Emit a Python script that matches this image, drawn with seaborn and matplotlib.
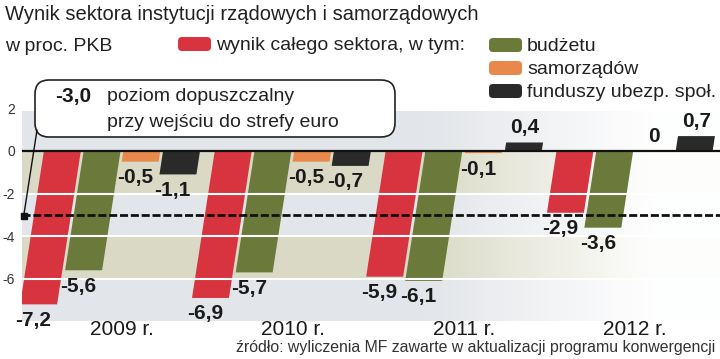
import numpy as np
import pandas as pd
import matplotlib
matplotlib.use('Agg')
import matplotlib.pyplot as plt
import matplotlib.transforms as mtransforms
from matplotlib.patches import FancyBboxPatch
from matplotlib.lines import Line2D
from matplotlib import font_manager as fm
import seaborn as sns

# dane (w proc. PKB)
lata = ['2009 r.', '2010 r.', '2011 r.', '2012 r.']
serie = ['wynik całego sektora', 'budżetu', 'samorządów', 'funduszy ubezp. społ.']
sektor = [-7.2, -6.9, -5.9, -2.9]
budzet = [-5.6, -5.7, -6.1, -3.6]
samorzady = [-0.5, -0.5, -0.1, 0.0]
fundusze = [-1.1, -0.7, 0.4, 0.7]
prog = -3.0

kolory = ['#d8343f', '#6b7a3a', '#e8884a', '#2a2a2a']
W, H = 720, 359
K = 0.0193  # pochylenie slupkow

names = {f.name for f in fm.fontManager.ttflist}
FONT = 'Liberation Sans'
NARROW = 'Liberation Sans Narrow' if 'Liberation Sans Narrow' in names else FONT

sns.set_style('white')
plt.rcParams['font.family'] = [FONT, 'DejaVu Sans']

df = pd.DataFrame({
    'rok': lata * 4,
    'seria': np.repeat(serie, 4),
    'wynik': sektor + budzet + samorzady + fundusze,
})

fig = plt.figure(figsize=(W / 100, H / 100), dpi=100)
ax = fig.add_axes([22 / W, 1 - 321.4 / H, 1 - 22 / W, (321.4 - 108.4) / H])

# tlo w pasy
szary, bez = '#e2e5e9', '#d9d9c5'
for lo, hi, c in [(0, 1.9, szary), (-2, 0, bez), (-4, -2, szary), (-6, -4, bez), (-8, -6, szary)]:
    ax.axhspan(lo, hi, color=c, lw=0, zorder=0)

xl = (-0.585, 3.50)
grad = np.ones((1, 256, 4))
grad[..., 3] = np.clip((np.linspace(22, 720, 256) - 420) / 240, 0, 0.97)
ax.imshow(grad, extent=[xl[0], xl[1], -8, 1.9], aspect='auto', zorder=1, interpolation='bilinear')

sns.barplot(data=df, x='rok', y='wynik', hue='seria', hue_order=serie, palette=kolory,
            width=0.93, gap=0.07, saturation=1, legend=False, linewidth=0, zorder=2, ax=ax)

skos = mtransforms.Affine2D().skew(np.arctan(K), 0) + ax.transData
for cont in ax.containers:
    for bar in cont:
        bar.set_transform(skos)
        v = bar.get_height()
        xc = bar.get_x() + bar.get_width() / 2 + K * v
        txt = '0' if v == 0 else f'{v:.1f}'.replace('.', ',')
        if v < 0:
            ax.text(xc - 0.03, v - 0.3, txt, ha='center', va='top', fontsize=15,
                    fontweight='bold', family=NARROW, color='#1a1a1a', zorder=5)
        else:
            ax.text(xc, v + 0.25, txt, ha='center', va='bottom', fontsize=15,
                    fontweight='bold', family=NARROW, color='#1a1a1a', zorder=5)

for y in [-2, -4, -6]:
    ax.axhline(y, color='white', lw=1.5, zorder=3)
ax.axhline(0, color='#111111', lw=1.6, zorder=4)
ax.axhline(prog, color='#111111', lw=2, ls=(0, (2.9, 1.0)), zorder=4)

ax.set_xlim(*xl)
ax.set_ylim(-8.0, 2.0)
ax.set_yticks([2, 0, -2, -4, -6], labels=['2', '0', '-2', '-4', '-6'])
ax.tick_params(axis='y', length=0, pad=5, labelsize=10, labelcolor='#333333')
ax.tick_params(axis='x', length=0, pad=-1, labelsize=15, labelcolor='#1a1a1a')
ax.set_xlabel('')
ax.set_ylabel('')
for s in ax.spines.values():
    s.set_visible(False)


def fx(x):
    return x / W


def fy(y):
    return 1 - y / H


px = mtransforms.IdentityTransform()

# naglowek i legenda
fig.text(fx(5), fy(20), 'Wynik sektora instytucji rządowych i samorządowych',
         fontsize=14.5, va='baseline', color='#222222')
fig.text(fx(5), fy(51), 'w proc. PKB', fontsize=14, va='baseline', color='#222222')

leg = [(178, 37, kolory[0], 'wynik całego sektora, w tym:'),
       (489, 38, kolory[1], 'budżetu'),
       (489, 61, kolory[2], 'samorządów'),
       (489, 84, kolory[3], 'funduszy ubezp. społ.')]
for x, y, c, lab in leg:
    fig.add_artist(FancyBboxPatch((x, H - y - 14), 33, 14, boxstyle='round,pad=0,rounding_size=4',
                                  fc=c, ec='none', transform=px))
    fig.text(fx(x + 38), fy(y + 13), lab, fontsize=14, va='baseline', color='#222222')

# ramka z progiem
fig.add_artist(FancyBboxPatch((35, H - 137), 360, 57, boxstyle='round,pad=0,rounding_size=14',
                              fc='white', ec='#222222', lw=1.2, transform=px, zorder=6))
fig.add_artist(Line2D([37, 24], [H - 130, H - 214], color='#111111', lw=1, transform=px, zorder=6))
fig.add_artist(Line2D([24], [H - 216], marker='s', ms=5, color='#111111', transform=px, zorder=6))
fig.text(fx(55), fy(102), '-3,0', fontsize=15, fontweight='bold', family=NARROW,
         va='baseline', color='#1a1a1a', zorder=7)
fig.text(fx(107), fy(101), 'poziom dopuszczalny', fontsize=14, va='baseline', color='#222222', zorder=7)
fig.text(fx(107), fy(127), 'przy wejściu do strefy euro', fontsize=14, va='baseline',
         color='#222222', zorder=7)

fig.text(fx(715), fy(352), 'źródło: wyliczenia MF zawarte w aktualizacji programu konwergencji',
         ha='right', va='baseline', fontsize=11.4, color='#333333')

fig.savefig('out.png', dpi=100)
